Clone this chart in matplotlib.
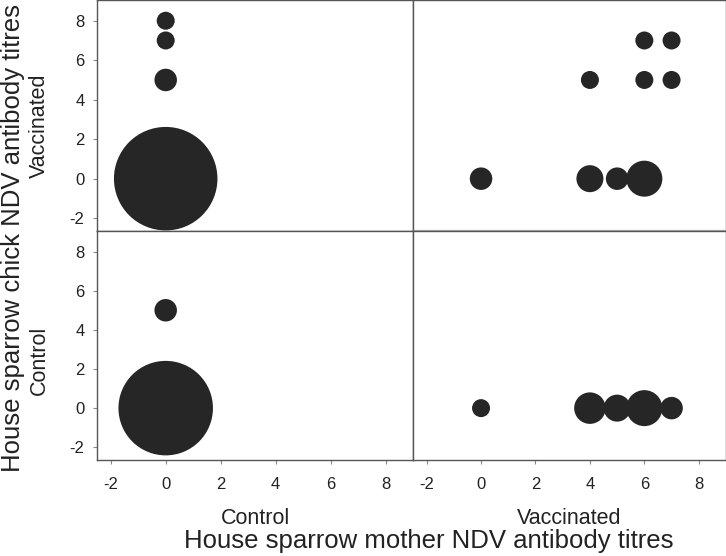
import matplotlib
matplotlib.use("Agg")
import matplotlib.pyplot as plt

plt.rcParams['font.family'] = ['Liberation Sans', 'DejaVu Sans']
plt.rcParams['axes.unicode_minus'] = False

# Panel data: x (mother titre), y (chick titre), count
# Top-left: mother Control, chick Vaccinated
tl_x = [0, 0, 0, 0]
tl_y = [8, 7, 5, 0]
tl_n = [1, 1, 2, 20]
# Top-right: mother Vaccinated, chick Vaccinated
tr_x = [0, 4, 5, 6, 4, 6, 7, 6, 7]
tr_y = [0, 0, 0, 0, 5, 5, 5, 7, 7]
tr_n = [2, 3, 2, 5, 1, 1, 1, 1, 1]
# Bottom-left: mother Control, chick Control
bl_x = [0, 0]
bl_y = [5, 0]
bl_n = [2, 18]
# Bottom-right: mother Vaccinated, chick Control
br_x = [0, 4, 5, 6, 7]
br_y = [0, 0, 0, 0, 0]
br_n = [1, 4, 3, 5, 2]

col_labels = ["Control", "Vaccinated"]
row_labels = ["Vaccinated", "Control"]
ticks = [-2, 0, 2, 4, 6, 8]

def sizes(ns):
    # diameter in pixels grows with count; convert to points^2
    return [((13.5 + 4.5 * n) * 0.72) ** 2 for n in ns]

fig = plt.figure(figsize=(7.26, 5.56), dpi=100)
L0, W0 = 97/726, 316/726
L1, W1 = 413/726, 313/726
B0, H0 = 1 - 231/556, 231/556
B1, H1 = 1 - 460/556, 229/556

axes = {
    (0, 0): fig.add_axes([L0, B0, W0, H0]),
    (0, 1): fig.add_axes([L1, B0, W1, H0]),
    (1, 0): fig.add_axes([L0, B1, W0, H1]),
    (1, 1): fig.add_axes([L1, B1, W1, H1]),
}
data = {
    (0, 0): (tl_x, tl_y, tl_n),
    (0, 1): (tr_x, tr_y, tr_n),
    (1, 0): (bl_x, bl_y, bl_n),
    (1, 1): (br_x, br_y, br_n),
}
row_label_y = {0: 0.455, 1: 0.437}

frame_c = '#555555'
for (r, c), ax in axes.items():
    x, y, n = data[(r, c)]
    ax.scatter(x, y, s=sizes(n), color='#262626', edgecolors='none', zorder=3)
    ax.set_xlim(-2.5, 9.0)
    ax.set_ylim(-2.65, 9.05)
    ax.set_xticks(ticks)
    ax.set_yticks(ticks)
    for sp in ax.spines.values():
        sp.set_color(frame_c)
        sp.set_linewidth(1.0)
    ax.tick_params(direction='out', length=3, width=0.8, color='#888888',
                   labelsize=12, labelcolor='#222222')
    ax.tick_params(axis='x', pad=9)
    ax.tick_params(axis='y', pad=6)
    if c == 0:
        ax.set_ylabel(row_labels[r], fontsize=15.5, color='#222222')
        ax.yaxis.set_label_coords(-0.15, row_label_y[r])
    else:
        ax.tick_params(axis='y', left=False, labelleft=False)
    if r == 1:
        ax.set_xlabel(col_labels[c], fontsize=15.5, color='#222222', labelpad=12)
    else:
        ax.tick_params(axis='x', bottom=False, labelbottom=False)
    if r == 0 and c == 1:
        ax.spines['bottom'].set_color('#aaaaaa')
        ax.spines['bottom'].set_linewidth(1.6)

fig.text(429/726, 1 - 541/556, "House sparrow mother NDV antibody titres",
         ha='center', va='center', fontsize=18.5, color='#222222')
fig.text(13/726, 1 - 238/556, "House sparrow chick NDV antibody titres",
         ha='center', va='center', rotation=90, fontsize=18.5, color='#222222')

fig.savefig("out.png", dpi=100)
